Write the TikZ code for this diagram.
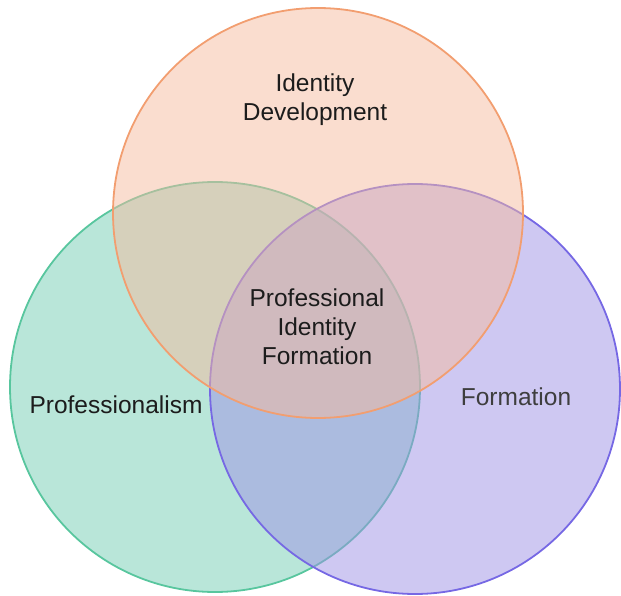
\documentclass[tikz,border=0pt]{standalone}
\usepackage{fontspec}
\setmainfont{Liberation Sans}
\usepackage{xcolor}

\begin{document}
\begin{tikzpicture}[x=1pt, y=-1pt, every node/.style={font=\fontsize{24.5}{29}\selectfont}]
	% Define colors
	\definecolor{pidfill}{RGB}{245, 187, 159}
	\definecolor{piddraw}{RGB}{242, 158, 112}
	\definecolor{proffill}{RGB}{115, 205, 179}
	\definecolor{profdraw}{RGB}{88, 198, 158}
	\definecolor{formfill}{RGB}{157, 145, 229}
	\definecolor{formdraw}{RGB}{118, 104, 228}
	\definecolor{labeltext}{RGB}{28, 28, 28}

	% Styles
	\tikzstyle{venn_set} = [circle, minimum size=410pt, inner sep=0pt, line width=1.8pt, fill opacity=0.5, draw opacity=1]
	\tikzstyle{venn_label} = [text=labeltext, align=center, inner sep=0pt]

	\useasboundingbox (0, 0) rectangle (621, 596);

	% Sets, bottom to top
	\node[venn_set, fill=proffill, draw=profdraw] (prof) at (215, 387) {};
	\node[venn_set, fill=formfill, draw=formdraw] (form) at (415, 389) {};
	\node[venn_set, fill=pidfill, draw=piddraw] (devel) at (318, 213) {};

	% Labels
	\node[venn_label] (devel_text) at (315, 100) {Identity\\Development};
	\node[venn_label] (prof_text) at (116, 405) {Professionalism};
	\node[venn_label, text=labeltext!85!white] (form_text) at (516, 397) {Formation};
	\node[venn_label] (pif_text) at (317, 327) {Professional\\Identity\\Formation};

\end{tikzpicture}
\end{document}
